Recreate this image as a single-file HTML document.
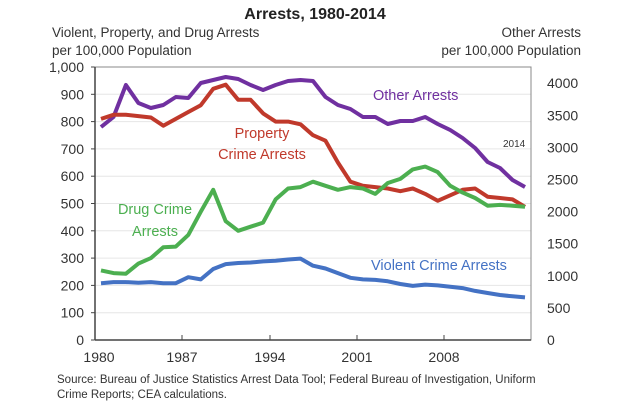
<!DOCTYPE html><html><head><style>body{margin:0;background:#fff}svg{display:block;font-family:"Liberation Sans",sans-serif}</style></head><body>
<svg width="630" height="407" viewBox="0 0 630 407">
<text x="315" y="19" text-anchor="middle" font-size="16" font-weight="bold" fill="#222">Arrests, 1980-2014</text>
<g font-size="13.5" fill="#333">
<text x="52" y="37">Violent, Property, and Drug Arrests</text>
<text x="52" y="55">per 100,000 Population</text>
<text x="581" y="37" text-anchor="end">Other Arrests</text>
<text x="581" y="55" text-anchor="end">per 100,000 Population</text>
</g>
<g stroke="#e6e6e6" stroke-width="1" id="grid"></g>
<g font-size="14" fill="#333" id="lab"></g>
<g id="ser" fill="none" stroke-width="4" stroke-linejoin="round"></g>
<rect x="95" y="67" width="436" height="273" fill="none" stroke="#888" stroke-width="1"/>
<line x1="95" y1="67" x2="95" y2="340" stroke="#444" stroke-width="1.5"/>
<line x1="95" y1="340" x2="531" y2="340" stroke="#444" stroke-width="1.5"/>
<g font-size="14" fill="#333" text-anchor="middle">
<text x="99" y="362">1980</text><text x="182" y="362">1987</text><text x="270" y="362">1994</text><text x="357" y="362">2001</text><text x="444" y="362">2008</text>
</g>
<g font-size="14.5">
<text x="373" y="100" fill="#7030a0">Other Arrests</text>
<text x="262" y="138" text-anchor="middle" fill="#c0392b">Property</text>
<text x="262" y="159" text-anchor="middle" fill="#c0392b">Crime Arrests</text>
<text x="155" y="214" text-anchor="middle" fill="#4caf50">Drug Crime</text>
<text x="155" y="236" text-anchor="middle" fill="#4caf50">Arrests</text>
<text x="371" y="270" fill="#4472c4">Violent Crime Arrests</text>
<text x="503" y="147" font-size="10" fill="#333">2014</text>
</g>
<g font-size="11.5" fill="#333">
<text x="57" y="383">Source: Bureau of Justice Statistics Arrest Data Tool; Federal Bureau of Investigation, Uniform</text>
<text x="57" y="398">Crime Reports; CEA calculations.</text>
</g>
<script>
var ns="http://www.w3.org/2000/svg";
function el(p,t,a,txt){var e=document.createElementNS(ns,t);for(var k in a)e.setAttribute(k,a[k]);if(txt!=null)e.textContent=txt;p.appendChild(e);return e;}
var g=document.getElementById('grid'),lab=document.getElementById('lab');
function Y(v){return 340-v*0.273;}
for(var v=0;v<=1000;v+=100){if(v>0&&v<1000)el(g,'line',{x1:95,x2:531,y1:Y(v),y2:Y(v)});
el(lab,'text',{x:84,y:Y(v)+5,'text-anchor':'end'},v==1000?'1,000':String(v));
el(g,'line',{x1:91,x2:95,y1:Y(v),y2:Y(v),stroke:'#444'});}
for(var r=0;r<=4000;r+=500){el(lab,'text',{x:547,y:340-r/500*32.1+5},String(r));}
[182,270,357,444].forEach(function(x){el(g,'line',{x1:x,x2:x,y1:335,y2:340,stroke:'#444'});});
var s=document.getElementById('ser');
function X(i){return 101+12.47*i;}
function line(vals,col,px){var d='';vals.forEach(function(v,i){d+=(i?'L':'M')+X(i).toFixed(1)+' '+(px?v:Y(v)).toFixed(1);});el(s,'path',{d:d,stroke:col});}
line([127,117,85,103,108,105,97,98,83,80,77,79,85,90,85,81,80,81,97,105,109,117,117,124,121,121,117,124,130,138,148,162,168,180,187],'#7030a0',true);
line([810,825,825,820,815,785,810,835,860,920,935,880,880,830,800,800,790,750,730,650,580,565,560,555,545,555,535,510,530,550,555,525,520,515,488],'#c0392b');
line([255,245,243,280,300,340,342,385,470,550,435,400,415,430,515,555,560,580,565,550,560,555,535,575,590,625,635,615,565,540,520,492,495,492,488],'#4caf50');
line([208,212,212,210,212,208,208,230,222,260,278,282,284,288,290,295,298,272,262,245,228,222,220,215,205,198,203,200,195,190,180,172,165,160,156],'#4472c4');
</script>
</svg></body></html>
